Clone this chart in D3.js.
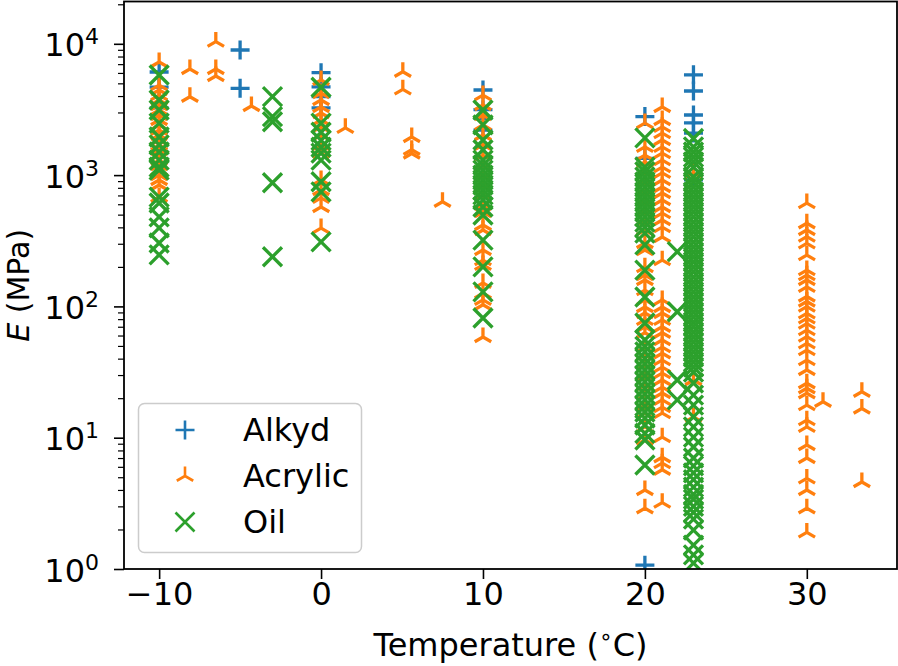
<!DOCTYPE html>
<html><head><meta charset="utf-8">
<script src="https://cdn.jsdelivr.net/npm/d3@7"></script>
<style>
body{margin:0;background:#fff}
svg{display:block}
text{font-family:"DejaVu Sans",sans-serif;fill:#000}
</style>
</head><body>
<svg id="chart" width="898" height="666"></svg>
<script>
// ---- data (temperature °C, E values in MPa) ----
const seriesNames = ["Alkyd", "Acrylic", "Oil"];
const seriesColors = ["#1f77b4", "#ff7f0e", "#2ca02c"];

const alkydGroups = [
  [-10, [6100, 4670, 3250]],
  [-5, [8970, 4580]],
  [0, [6030, 4700, 3960, 3250]],
  [10, [4450, 3150, 2700, 2200]],
  [20, [2790, 1340, 1.07]],
  [23, [5800, 4370, 2870, 2500, 2090, 920]]
];

const acrylicGroups = [
  [-10, [7270, 4850, 4450, 4070, 3730, 3420, 3130, 2870, 2630, 2410, 2210, 2020, 1850, 1700, 1550, 1420, 1300, 1190, 1090, 1000, 918, 841, 681]],
  [-8.1, [6430, 3950]],
  [-6.5, [10400, 6430, 5690]],
  [-4.3, [3360]],
  [0, [5300, 4220, 3730, 3300, 2970, 2630, 2330, 2020, 1700, 1470, 918, 770, 670, 572, 395]],
  [1.5, [2290]],
  [5.05, [6130, 4500]],
  [5.6, [1950, 1560, 1460]],
  [7.5, [627]],
  [10, [4070, 3420, 2870, 2410, 2020, 1700, 1420, 1190, 1000, 841, 705, 592, 524, 417, 382, 269, 225, 207, 151, 126, 112, 103, 58.5]],
  [20, [2490, 1640, 1420, 1260, 1090, 918, 770, 646, 541, 455, 382, 304, 269, 199, 173, 159, 133, 112, 99, 89, 79, 70, 63, 49, 42.7, 35.8, 30, 25.2, 21.1, 17.7, 15.4, 12.1, 9.6, 4.0, 2.9]],
  [21.07, [3300, 2630, 2330, 2090, 1850, 1640, 1470, 1300, 1150, 1040, 918, 811, 731, 646, 572, 514, 455, 402, 338, 225, 112, 99, 89, 79, 70, 63, 55.5, 49, 44, 39, 34.5, 31, 27.5, 24.3, 21.9, 19.4, 17.1, 15.4, 10.1, 7.1, 6.4, 5.7, 3.2]],
  [23, [1040, 27.5, 14.4]],
  [30, [612, 430, 382, 340, 302, 246, 189, 173, 159, 141, 119, 109, 99.5, 88.6, 81, 74, 66, 58.8, 52.3, 46.5, 39, 32.8, 26, 23.8, 21.8, 17.7, 13.6, 12.1, 8.8, 7.0, 4.9, 4.0, 2.9, 1.9]],
  [31, [18.8]],
  [33.4, [22.4, 16.7, 4.6]]
];

const oilGroups = [
  [-10, [5790, 3730, 3130, 2490, 1950, 1700, 1500, 1300, 1150, 1090, 680, 613, 480, 396, 304, 247]],
  [-3, [3960, 2790, 2550, 875, 239]],
  [0, [4670, 2490, 2120, 1840, 1630, 1470, 1300, 890, 745, 310]],
  [10, [3130, 2410, 1850, 1560, 1300, 1190, 1090, 1000, 918, 841, 770, 706, 647, 572, 497, 320, 200, 129, 81.6]],
  [20, [1920, 1150, 1060, 968, 886, 811, 743, 681, 624, 572, 524, 480, 439, 402, 362, 294, 189, 118, 74.8, 55.5, 49.6, 45, 40.2, 36.4, 32.8, 29.5, 26.6, 23.8, 21.5, 19.4, 17.4, 15.7, 14.1, 12.5, 10.8, 9.6, 6.2]],
  [22, [261, 91, 27.5, 19.4]],
  [23, [1900, 1640, 1500, 1370, 1260, 1150, 968, 886, 811, 743, 681, 624, 572, 524, 480, 439, 402, 369, 338, 309, 283, 259, 238, 218, 199, 183, 167, 153, 141, 129, 118, 108, 99, 90.6, 83, 76, 70, 63.8, 58.5, 53.6, 49, 45, 41.2, 37.7, 34.5, 31.6, 26.1, 21.1, 17.7, 14.4, 12.1, 10.1, 8.5, 7.0, 6.1, 5.4, 4.8, 4.2, 3.7, 3.4, 3.0, 2.7, 2.4, 1.98, 1.52, 1.28, 1.11]]
];

const xTicks = [-10, 0, 10, 20, 30];
const yMajorTicks = [1, 10, 100, 1000, 10000];
const yTickExponents = ["0", "1", "2", "3", "4"];

// ---- layout ----
const plot = {left: 124, right: 897, top: 1.5, bottom: 569};
const FS = 32;

const svg = d3.select("#chart");
const x = d3.scaleLinear().domain([-12.17, 35.57]).range([plot.left, plot.right]);
const y = d3.scaleLog().domain([1, 21000]).range([plot.bottom, plot.top]);

svg.append("defs").append("clipPath").attr("id", "clip")
  .append("rect").attr("x", plot.left).attr("y", plot.top)
  .attr("width", plot.right - plot.left).attr("height", plot.bottom - plot.top);

// ---- markers ----
const R = 9.5;
const markerPaths = {
  Alkyd: `M${-R},0L${R},0M0,${-R}L0,${R}`,
  Acrylic: `M0,0L0,${-R}M0,0L${-0.866*R},${0.5*R}M0,0L${0.866*R},${0.5*R}`,
  Oil: `M${-R},${-R}L${R},${R}M${-R},${R}L${R},${-R}`
};

const allGroups = [alkydGroups, acrylicGroups, oilGroups];
const pts = svg.append("g").attr("clip-path", "url(#clip)");
allGroups.forEach((groups, i) => {
  const name = seriesNames[i];
  const flat = [];
  groups.forEach(([t, vals]) => vals.forEach(v => flat.push({t, v})));
  pts.append("g").selectAll("path").data(flat).join("path")
    .attr("transform", d => `translate(${x(d.t)},${y(d.v)})`)
    .attr("d", markerPaths[name])
    .attr("fill", "none")
    .attr("stroke", seriesColors[i])
    .attr("stroke-width", 3.3);
});

// ---- axes ----
const fmtX = d => d < 0 ? "\u2212" + Math.abs(d) : String(d);
const gx = svg.append("g").attr("transform", `translate(0,${plot.bottom})`)
  .call(d3.axisBottom(x).tickValues(xTicks).tickSize(10).tickPadding(25.5).tickFormat(fmtX));
gx.select(".domain").remove();
gx.selectAll(".tick line").attr("stroke", "#000").attr("stroke-width", 1.6);
gx.selectAll(".tick text").attr("font-size", FS).attr("font-family", "DejaVu Sans").attr("dy", 0);

const gy = svg.append("g").attr("transform", `translate(${plot.left},0)`)
  .call(d3.axisLeft(y).tickValues(yMajorTicks).tickSize(10).tickFormat(""));
gy.select(".domain").remove();
gy.selectAll(".tick line").attr("stroke", "#000").attr("stroke-width", 1.6);
gy.selectAll(".tick text").remove();
gy.selectAll(".tick").each(function(d, i) {
  const t = d3.select(this).append("text")
    .attr("x", -25).attr("y", 12).attr("text-anchor", "end")
    .attr("font-size", FS);
  t.append("tspan").text("10");
  t.append("tspan").attr("dy", -12).attr("font-size", 22).text(yTickExponents[i]);
});

const minor = [];
[1, 10, 100, 1000, 10000].forEach(b => { for (let k = 2; k <= 9; k++) if (b*k <= 21000) minor.push(b*k); });
const gym = svg.append("g").attr("transform", `translate(${plot.left},0)`)
  .call(d3.axisLeft(y).tickValues(minor).tickSize(6).tickFormat(""));
gym.select(".domain").remove();
gym.selectAll(".tick line").attr("stroke", "#000").attr("stroke-width", 1.2);

// frame
svg.append("rect").attr("x", plot.left).attr("y", plot.top)
  .attr("width", plot.right - plot.left).attr("height", plot.bottom - plot.top)
  .attr("fill", "none").attr("stroke", "#000").attr("stroke-width", 1.8);

// axis labels
const xl = svg.append("text").attr("x", (plot.left + plot.right) / 2).attr("y", 656)
  .attr("text-anchor", "middle").attr("font-size", FS);
xl.append("tspan").text("Temperature (");
xl.append("tspan").attr("font-size", 22).attr("dy", -12).text("\u2218");
xl.append("tspan").attr("dy", 12).text("C)");

const yl = svg.append("text").attr("transform", `translate(29,${(plot.top + plot.bottom) / 2}) rotate(-90)`)
  .attr("text-anchor", "middle").attr("font-size", 30);
yl.append("tspan").attr("font-style", "italic").text("E");
yl.append("tspan").text(" (MPa)");

// ---- legend ----
const lg = svg.append("g");
lg.append("rect").attr("x", 138.5).attr("y", 403.5).attr("width", 223).attr("height", 149)
  .attr("rx", 6).attr("fill", "#fff").attr("fill-opacity", 0.8)
  .attr("stroke", "#cccccc").attr("stroke-width", 1.5);
seriesNames.forEach((name, i) => {
  const by = 441 + i * 46;
  lg.append("path").attr("transform", `translate(185,${by - 11})`)
    .attr("d", markerPaths[name]).attr("fill", "none")
    .attr("stroke", seriesColors[i]).attr("stroke-width", 2.6);
  lg.append("text").attr("x", 243).attr("y", by).attr("font-size", FS).text(name);
});
</script>
</body></html>
